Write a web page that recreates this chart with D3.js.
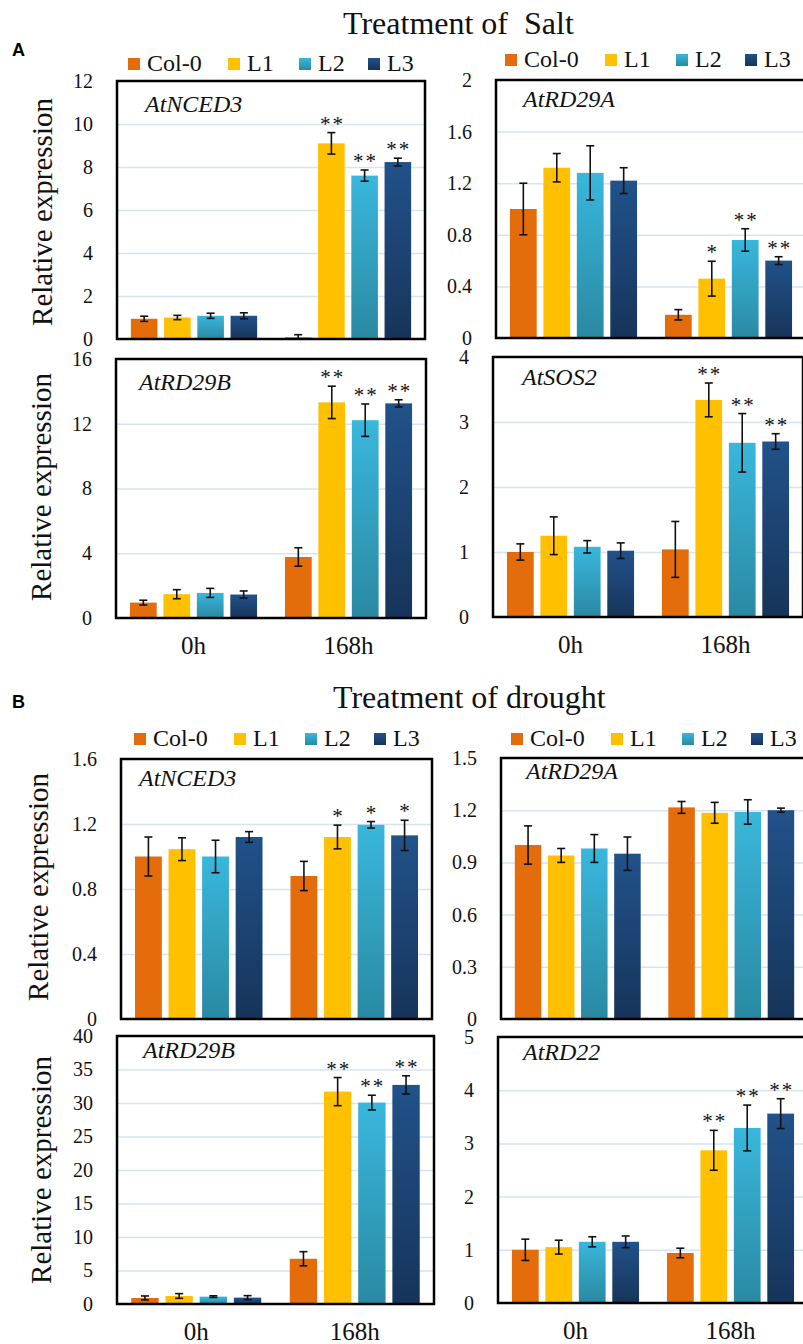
<!DOCTYPE html>
<html>
<head>
<meta charset="utf-8">
<script src="https://cdn.jsdelivr.net/npm/d3@7"></script>
<style>
    body { margin: 0; background: #fff; }
</style>
</head>
<body>
<script>
    'use strict';

    // genotypes and time points
    let series = ["Col-0", "L1", "L2", "L3"];
    let times = ["0h", "168h"];

    // values are ordered 0h Col-0, L1, L2, L3, then 168h Col-0, L1, L2, L3
    // salt
    let saltNCED3Mean = [0.94, 1.0, 1.08, 1.08, 0.08, 9.1, 7.6, 8.23];
    let saltNCED3Err = [0.12, 0.1, 0.12, 0.14, 0.12, 0.5, 0.26, 0.18];
    let saltNCED3Sig = ["", "", "", "", "", "**", "**", "**"];
    let saltNCED3Ticks = [0, 2, 4, 6, 8, 10, 12];

    let saltRD29AMean = [1.0, 1.32, 1.28, 1.22, 0.18, 0.46, 0.76, 0.6];
    let saltRD29AErr = [0.2, 0.11, 0.21, 0.1, 0.04, 0.135, 0.087, 0.03];
    let saltRD29ASig = ["", "", "", "", "", "*", "**", "**"];
    let saltRD29ATicks = [0, 0.4, 0.8, 1.2, 1.6, 2];

    let saltRD29BMean = [0.95, 1.47, 1.55, 1.45, 3.77, 13.32, 12.22, 13.26];
    let saltRD29BErr = [0.15, 0.28, 0.28, 0.22, 0.57, 1.0, 1.0, 0.22];
    let saltRD29BSig = ["", "", "", "", "", "**", "**", "**"];
    let saltRD29BTicks = [0, 4, 8, 12, 16];

    let saltSOS2Mean = [1.0, 1.25, 1.08, 1.02, 1.04, 3.34, 2.68, 2.7];
    let saltSOS2Err = [0.125, 0.29, 0.095, 0.12, 0.43, 0.26, 0.45, 0.12];
    let saltSOS2Sig = ["", "", "", "", "", "**", "**", "**"];
    let saltSOS2Ticks = [0, 1, 2, 3, 4];

    // drought
    let droughtNCED3Mean = [1.0, 1.045, 1.0, 1.12, 0.88, 1.12, 1.195, 1.13];
    let droughtNCED3Err = [0.12, 0.07, 0.1, 0.033, 0.09, 0.073, 0.02, 0.093];
    let droughtNCED3Sig = ["", "", "", "", "", "*", "*", "*"];
    let droughtNCED3Ticks = [0, 0.4, 0.8, 1.2, 1.6];

    let droughtRD29AMean = [1.0, 0.94, 0.98, 0.95, 1.216, 1.185, 1.19, 1.2];
    let droughtRD29AErr = [0.11, 0.04, 0.08, 0.096, 0.034, 0.06, 0.07, 0.012];
    let droughtRD29ASig = ["", "", "", "", "", "", "", ""];
    let droughtRD29ATicks = [0, 0.3, 0.6, 0.9, 1.2, 1.5];

    let droughtRD29BMean = [0.9, 1.2, 1.1, 0.95, 6.75, 31.7, 30.06, 32.7];
    let droughtRD29BErr = [0.3, 0.35, 0.12, 0.3, 1.06, 2.1, 1.1, 1.36];
    let droughtRD29BSig = ["", "", "", "", "", "**", "**", "**"];
    let droughtRD29BTicks = [0, 5, 10, 15, 20, 25, 30, 35, 40];

    let droughtRD22Mean = [1.0, 1.05, 1.15, 1.15, 0.94, 2.87, 3.29, 3.56];
    let droughtRD22Err = [0.2, 0.13, 0.095, 0.11, 0.09, 0.375, 0.43, 0.28];
    let droughtRD22Sig = ["", "", "", "", "", "**", "**", "**"];
    let droughtRD22Ticks = [0, 1, 2, 3, 4, 5];

    let w = 803;
    let h = 1344;
    let serif = "'Liberation Serif', 'Times New Roman', serif";

    let svg = d3.select("body")
        .append("svg")
        .attr("width", w)
        .attr("height", h);

    // vertical gradients for the two blue series
    let defs = svg.append("defs");
    function gradient(id, top, bottom) {
        let g = defs.append("linearGradient")
            .attr("id", id)
            .attr("x1", 0).attr("y1", 0)
            .attr("x2", 0).attr("y2", 1);
        g.append("stop").attr("offset", "0%").attr("stop-color", top);
        g.append("stop").attr("offset", "100%").attr("stop-color", bottom);
    }
    gradient("gL2", "#39B7DC", "#2A89A2");
    gradient("gL3", "#21528A", "#16345A");

    let fills = ["#E46C0A", "#FFC000", "url(#gL2)", "url(#gL3)"];

    let panels = [
        {gene: "AtNCED3", mean: saltNCED3Mean, err: saltNCED3Err, sig: saltNCED3Sig, ticks: saltNCED3Ticks,
            left: 117, right: 425, top: 81, bottom: 339, lx: 145, ly: 112, xlab: false},
        {gene: "AtRD29A", mean: saltRD29AMean, err: saltRD29AErr, sig: saltRD29ASig, ticks: saltRD29ATicks,
            left: 496, right: 806, top: 80, bottom: 338, lx: 523, ly: 107, xlab: false},
        {gene: "AtRD29B", mean: saltRD29BMean, err: saltRD29BErr, sig: saltRD29BSig, ticks: saltRD29BTicks,
            left: 116, right: 426, top: 359, bottom: 618, lx: 139, ly: 390, xlab: true},
        {gene: "AtSOS2", mean: saltSOS2Mean, err: saltSOS2Err, sig: saltSOS2Sig, ticks: saltSOS2Ticks,
            left: 493, right: 803, top: 357, bottom: 617, lx: 522, ly: 385, xlab: true},
        {gene: "AtNCED3", mean: droughtNCED3Mean, err: droughtNCED3Err, sig: droughtNCED3Sig, ticks: droughtNCED3Ticks,
            left: 121, right: 432, top: 759, bottom: 1019, lx: 139, ly: 786, xlab: false},
        {gene: "AtRD29A", mean: droughtRD29AMean, err: droughtRD29AErr, sig: droughtRD29ASig, ticks: droughtRD29ATicks,
            left: 501, right: 808, top: 758, bottom: 1019, lx: 526, ly: 779, xlab: false},
        {gene: "AtRD29B", mean: droughtRD29BMean, err: droughtRD29BErr, sig: droughtRD29BSig, ticks: droughtRD29BTicks,
            left: 117, right: 434, top: 1036, bottom: 1304, lx: 143, ly: 1058, xlab: true},
        {gene: "AtRD22", mean: droughtRD22Mean, err: droughtRD22Err, sig: droughtRD22Sig, ticks: droughtRD22Ticks,
            left: 498, right: 808, top: 1037, bottom: 1303, lx: 523, ly: 1060, xlab: true}
    ];

    panels.forEach(function (p) {
        let g = svg.append("g");
        let ymax = p.ticks[p.ticks.length - 1];

        let y = d3.scaleLinear().domain([0, ymax]).range([p.bottom, p.top]);
        let x0 = d3.scaleBand().domain(times).range([p.left, p.right]);
        let bw = x0.bandwidth();
        let x1 = d3.scaleBand().domain(series).range([bw * 0.09, bw * 0.91]).paddingInner(0.2);

        // gridlines
        g.append("g")
            .attr("transform", "translate(" + p.left + ",0)")
            .call(d3.axisLeft(y).tickValues(p.ticks.slice(1, -1)).tickSize(-(p.right - p.left)).tickFormat(""))
            .call(function (a) { a.select(".domain").remove(); })
            .selectAll("line")
            .attr("stroke", "#D6E3F3")
            .attr("stroke-width", 1.5);

        // tick labels
        g.append("g")
            .attr("transform", "translate(" + p.left + ",0)")
            .call(d3.axisLeft(y).tickValues(p.ticks).tickSize(0).tickPadding(24).tickFormat(function (d) { return String(d); }))
            .call(function (a) { a.select(".domain").remove(); })
            .selectAll("text")
            .style("font-size", "20px");

        let rows = [];
        times.forEach(function (t, ti) {
            series.forEach(function (s, si) {
                rows.push({t: t, s: s, si: si, v: p.mean[ti * 4 + si], e: p.err[ti * 4 + si], sig: p.sig[ti * 4 + si]});
            });
        });

        // bars
        g.selectAll("rect.bar")
            .data(rows)
            .enter()
            .append("rect")
            .attr("class", "bar")
            .attr("x", function (d) { return x0(d.t) + x1(d.s); })
            .attr("width", x1.bandwidth())
            .attr("y", function (d) { return y(d.v); })
            .attr("height", function (d) { return p.bottom - y(d.v); })
            .attr("fill", function (d) { return fills[d.si]; });

        // error bars
        rows.forEach(function (d) {
            let cx = x0(d.t) + x1(d.s) + x1.bandwidth() / 2;
            let top = y(d.v + d.e);
            let bot = Math.min(y(d.v - d.e), p.bottom);
            g.append("line").attr("x1", cx).attr("x2", cx).attr("y1", top).attr("y2", bot)
                .attr("stroke", "#111").attr("stroke-width", 1.6);
            g.append("line").attr("x1", cx - 4).attr("x2", cx + 4).attr("y1", top).attr("y2", top)
                .attr("stroke", "#111").attr("stroke-width", 1.6);
            g.append("line").attr("x1", cx - 4).attr("x2", cx + 4).attr("y1", bot).attr("y2", bot)
                .attr("stroke", "#111").attr("stroke-width", 1.6);
            if (d.sig) {
                g.append("text")
                    .attr("x", cx + 1)
                    .attr("y", top - 2)
                    .attr("text-anchor", "middle")
                    .style("font-size", "21px")
                    .style("letter-spacing", "2px")
                    .text(d.sig);
            }
        });

        // frame
        g.append("rect")
            .attr("x", p.left)
            .attr("y", p.top)
            .attr("width", p.right - p.left)
            .attr("height", p.bottom - p.top)
            .attr("fill", "none")
            .attr("stroke", "#000")
            .attr("stroke-width", 2.5);

        // gene name
        g.append("text")
            .attr("x", p.lx)
            .attr("y", p.ly)
            .style("font-style", "italic")
            .style("font-size", "24px")
            .text(p.gene);

        // time labels under the lower panels
        if (p.xlab) {
            times.forEach(function (t) {
                g.append("text")
                    .attr("x", x0(t) + bw / 2)
                    .attr("y", p.bottom + 36)
                    .attr("text-anchor", "middle")
                    .style("font-size", "25px")
                    .text(t);
            });
        }
    });

    // y axis titles
    [[52, 212], [51, 487], [48, 887], [51, 1170]].forEach(function (c) {
        svg.append("text")
            .attr("transform", "translate(" + c[0] + "," + c[1] + ") rotate(-90)")
            .attr("text-anchor", "middle")
            .style("font-size", "29px")
            .text("Relative expression");
    });

    // legends
    let legendOffsets = [0, 100, 171, 240];
    [[128, 71], [505, 67], [134, 746], [511, 746]].forEach(function (l) {
        series.forEach(function (s, i) {
            svg.append("rect")
                .attr("x", l[0] + legendOffsets[i])
                .attr("y", l[1] - 13)
                .attr("width", 12)
                .attr("height", 12)
                .attr("fill", fills[i]);
            svg.append("text")
                .attr("x", l[0] + legendOffsets[i] + 19)
                .attr("y", l[1])
                .style("font-size", "24px")
                .text(s);
        });
    });

    // titles
    svg.append("text").attr("x", 343).attr("y", 34).style("font-size", "32px").text("Treatment of\u00a0 Salt");
    svg.append("text").attr("x", 333).attr("y", 708).style("font-size", "32px").text("Treatment of drought");

    // every text so far is serif
    svg.selectAll("text")
        .style("font-family", serif)
        .style("fill", "#111");

    // panel letters
    svg.append("text").attr("x", 12).attr("y", 56)
        .style("font-family", "'Liberation Sans', Arial, sans-serif")
        .style("font-weight", "bold").style("font-size", "18px").text("A");
    svg.append("text").attr("x", 12).attr("y", 708)
        .style("font-family", "'Liberation Sans', Arial, sans-serif")
        .style("font-weight", "bold").style("font-size", "18px").text("B");
</script>
</body>
</html>
